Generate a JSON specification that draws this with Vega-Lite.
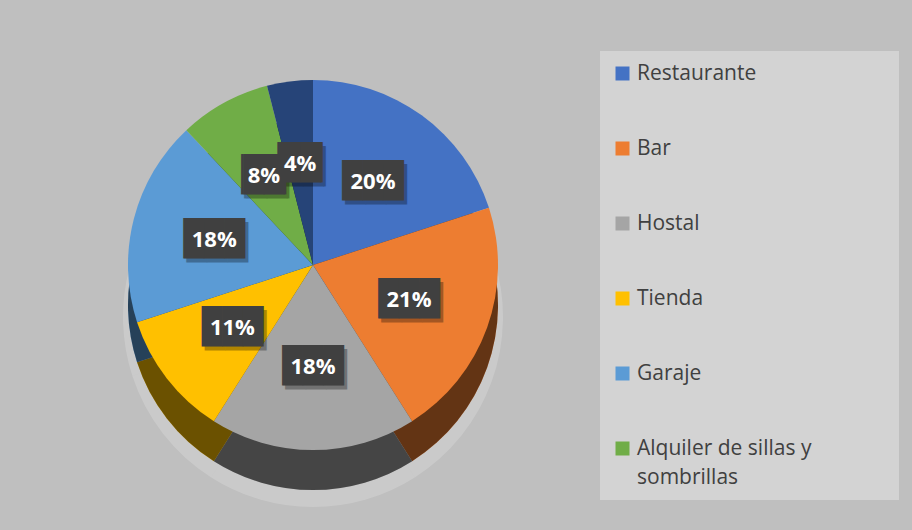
{
  "$schema": "https://vega.github.io/schema/vega-lite/v6.json",
  "width": 616,
  "height": 514,
  "autosize": "none",
  "padding": {"left": 5, "top": 8, "right": 291, "bottom": 8},
  "background": "#bfbfbf",
  "config": {"view": {"stroke": null}, "style": {"guide-label": {"lineHeight": 29}}},
  "data": {
    "values": [
      {"orden": 1, "tipo": "Restaurante", "valor": 0.20},
      {"orden": 2, "tipo": "Bar", "valor": 0.21},
      {"orden": 3, "tipo": "Hostal", "valor": 0.18},
      {"orden": 4, "tipo": "Tienda", "valor": 0.11},
      {"orden": 5, "tipo": "Garaje", "valor": 0.18},
      {"orden": 6, "tipo": "Alquiler de sillas y sombrillas", "valor": 0.08},
      {"orden": 7, "tipo": "Otros", "valor": 0.04}
    ]
  },
  "encoding": {
    "theta": {"field": "valor", "type": "quantitative", "stack": true},
    "order": {"field": "orden", "type": "quantitative"},
    "color": {
      "field": "tipo",
      "type": "nominal",
      "scale": {
        "domain": ["Restaurante", "Bar", "Hostal", "Tienda", "Garaje", "Alquiler de sillas y sombrillas", "Otros"],
        "range": ["#4472C4", "#ED7D31", "#A5A5A5", "#FFC000", "#5B9BD5", "#70AD47", "#264478"]
      },
      "legend": {
        "orient": "none",
        "legendX": 595,
        "legendY": 43,
        "title": null,
        "values": ["Restaurante", "Bar", "Hostal", "Tienda", "Garaje", "Alquiler de sillas y sombrillas"],
        "fillColor": "#d3d3d3",
        "padding": 12,
        "symbolType": "square",
        "symbolSize": 196,
        "symbolStrokeWidth": 0,
        "labelFont": "Open Sans",
        "labelFontSize": 21,
        "labelColor": "#404040",
        "labelOffset": 4,
        "rowPadding": 53,
        "labelLimit": 400,
        "labelExpr": "datum.label == 'Alquiler de sillas y sombrillas' ? ['Alquiler de sillas y\u2800\u2800\u2800\u2800\u2800', 'sombrillas'] : datum.label"
      }
    }
  },
  "layer": [
    {
      "mark": {"type": "arc", "outerRadius": 190, "yOffset": 52, "opacity": 0.18},
      "encoding": {"color": {"value": "#ffffff"}}
    },
    {
      "mark": {"type": "arc", "outerRadius": 185, "yOffset": 40}
    },
    {
      "mark": {"type": "arc", "outerRadius": 185, "yOffset": 40, "opacity": 0.58},
      "encoding": {"color": {"value": "#000000"}}
    },
    {
      "mark": {"type": "arc", "outerRadius": 185}
    },
    {
      "mark": {"type": "text", "radius": 102, "font": "DejaVu Sans Mono", "fontSize": 34, "baseline": "middle", "dx": 3, "dy": 4, "opacity": 0.3},
      "encoding": {
        "text": {"condition": {"test": "datum.valor < 0.1", "value": "▕██▏"}, "value": "███"},
        "color": {"value": "#000000"}
      }
    },
    {
      "mark": {"type": "text", "radius": 102, "font": "DejaVu Sans Mono", "fontSize": 34, "baseline": "middle"},
      "encoding": {
        "text": {"condition": {"test": "datum.valor < 0.1", "value": "▕██▏"}, "value": "███"},
        "color": {"value": "#404040"}
      }
    },
    {
      "mark": {"type": "text", "radius": 102, "font": "Open Sans", "fontWeight": "bold", "fontSize": 22, "baseline": "middle"},
      "encoding": {
        "text": {"field": "valor", "type": "quantitative", "format": ".0%"},
        "color": {"value": "#ffffff"}
      }
    }
  ]
}
